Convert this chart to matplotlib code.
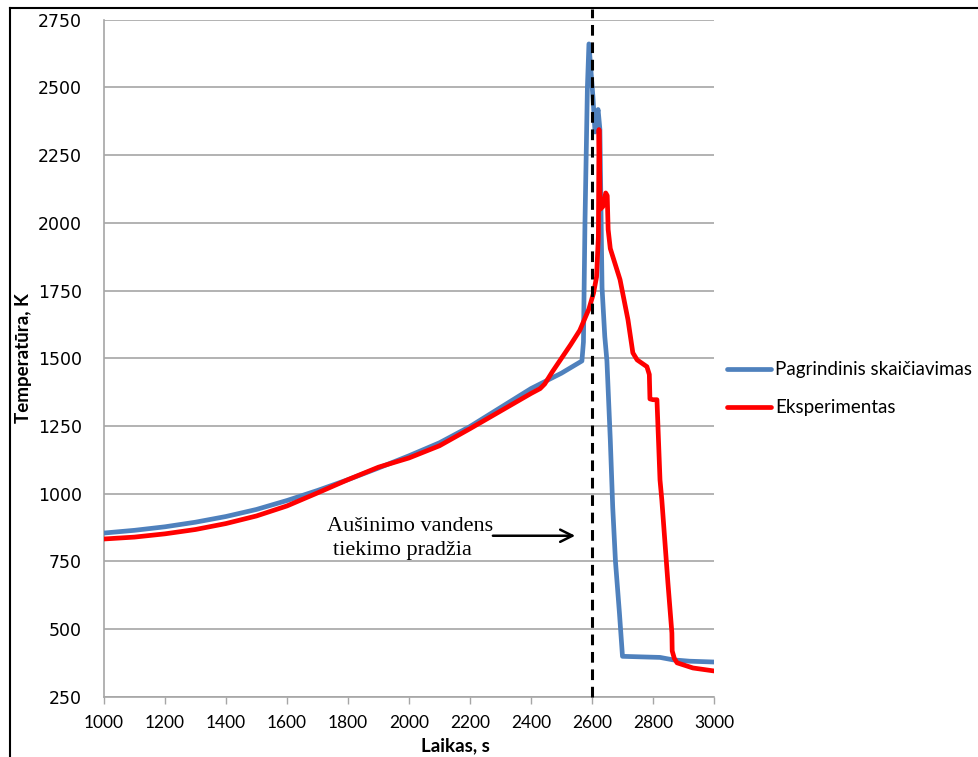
import matplotlib
matplotlib.use("Agg")
import matplotlib.pyplot as plt
from matplotlib.lines import Line2D

# Calculated (baseline) temperature history
calc_time = [1000, 1100, 1200, 1300, 1400, 1500, 1600, 1700, 1800, 1900, 2000,
             2100, 2200, 2300, 2400, 2500, 2567, 2572, 2577, 2585, 2590, 2603,
             2610, 2617, 2620, 2626, 2633, 2642, 2649, 2660, 2668, 2677, 2690,
             2700, 2760, 2823, 2866, 2920, 3000]
calc_temp = [855, 865, 878, 895, 916, 942, 975, 1012, 1052, 1095, 1140,
             1188, 1248, 1318, 1388, 1445, 1490, 1560, 2000, 2500, 2660, 2466,
             2335, 2400, 2418, 2344, 1760, 1580, 1490, 1200, 950, 750, 560,
             400, 398, 396, 387, 382, 379]

# Measured (experiment) temperature history
exp_time = [1000, 1100, 1200, 1300, 1400, 1500, 1600, 1700, 1800, 1900, 2000,
            2100, 2200, 2300, 2400, 2430, 2445, 2470, 2500, 2530, 2560, 2590,
            2605, 2615, 2621, 2623, 2625, 2627, 2636, 2645, 2650, 2653, 2660,
            2692, 2718, 2734, 2748, 2780, 2788, 2790, 2800, 2813, 2823, 2829,
            2849, 2862, 2863, 2870, 2879, 2931, 3000]
exp_temp = [833, 840, 852, 868, 890, 918, 955, 1003, 1052, 1098, 1132,
            1177, 1240, 1305, 1370, 1388, 1405, 1450, 1500, 1550, 1603, 1682,
            1740, 1800, 1950, 2344, 2200, 2050, 2060, 2110, 2100, 1975, 1905,
            1790, 1642, 1520, 1494, 1469, 1440, 1350, 1347, 1347, 1051, 977,
            671, 486, 420, 392, 376, 357, 346]

x_ticks = [1000, 1200, 1400, 1600, 1800, 2000, 2200, 2400, 2600, 2800, 3000]
y_ticks = [250, 500, 750, 1000, 1250, 1500, 1750, 2000, 2250, 2500, 2750]
series_names = ["Pagrindinis skaičiavimas", "Eksperimentas"]
water_start = 2600

grey = "#a6a6a6"
blue = "#4f81bd"
red = "#ff0000"

fig = plt.figure(figsize=(9.79, 7.57), dpi=100)
ax = fig.add_axes([0.1062, 0.0793, 0.7293 - 0.1062, 0.9742 - 0.0793])

ax.plot(calc_time, calc_temp, color=blue, lw=3.4, solid_joinstyle="round",
        solid_capstyle="round", label=series_names[0], zorder=3)
ax.plot(exp_time, exp_temp, color=red, lw=3.4, solid_joinstyle="round",
        solid_capstyle="round", label=series_names[1], zorder=4)

ax.plot([water_start, water_start], [250, 2790], color="black", lw=2.2,
        ls=(0, (3.5, 2.2)), clip_on=False, zorder=5)

ax.set_xlim(1000, 3000)
ax.set_ylim(250, 2750)
ax.set_xticks(x_ticks)
ax.set_yticks(y_ticks)
ax.yaxis.grid(True, color=grey, lw=1.2)
ax.set_axisbelow(True)
for side in ["top", "right"]:
    ax.spines[side].set_visible(False)
for side in ["left", "bottom"]:
    ax.spines[side].set_color(grey)
    ax.spines[side].set_linewidth(1.2)

ax.tick_params(axis="x", direction="out", length=5, color=grey, width=1,
               pad=8, labelsize=12.5)
ax.tick_params(axis="y", length=0, pad=16, labelsize=12.5)
for lab in ax.get_xticklabels():
    lab.set_fontfamily("Lato")
for lab in ax.get_yticklabels():
    lab.set_fontfamily("DejaVu Sans")

ax.set_xlabel("Laikas, s", fontfamily="Lato", fontweight="bold", fontsize=13.5,
              va="center")
ax.xaxis.set_label_coords((455 - 104) / 610, -(746 - 697) / 677)
ax.set_ylabel("Temperatūra, K", fontfamily="Lato", fontweight="bold",
              fontsize=13.5, va="center")
ax.yaxis.set_label_coords(-(104 - 24) / 610, (697 - 358) / 677)

ax.annotate("", xy=(2554, 845), xytext=(2266, 845),
            arrowprops=dict(arrowstyle="->", color="black", lw=1.8,
                            mutation_scale=22))
ax.text(1731, 878, "Aušinimo vandens", fontfamily="Liberation Serif",
        fontsize=16, va="center", ha="left")
ax.text(1751, 789, "tiekimo pradžia", fontfamily="Liberation Serif",
        fontsize=16, va="center", ha="left")

leg = ax.legend(loc="center left", bbox_to_anchor=((727 - 104) / 610, (697 - 389) / 677),
                frameon=False, borderpad=0, borderaxespad=0,
                prop={"family": "Lato", "size": 13.5}, handlelength=2.35,
                handletextpad=0.2, labelspacing=1.1)

# Outer frame edges
fig.add_artist(Line2D([10 / 979, 1.0], [1 - 7.5 / 757, 1 - 7.5 / 757],
                      transform=fig.transFigure, color="black", lw=1.5))
fig.add_artist(Line2D([10 / 979, 10 / 979], [0.0, 1 - 7.5 / 757],
                      transform=fig.transFigure, color="black", lw=1.5))

fig.savefig("out.png", dpi=100)
